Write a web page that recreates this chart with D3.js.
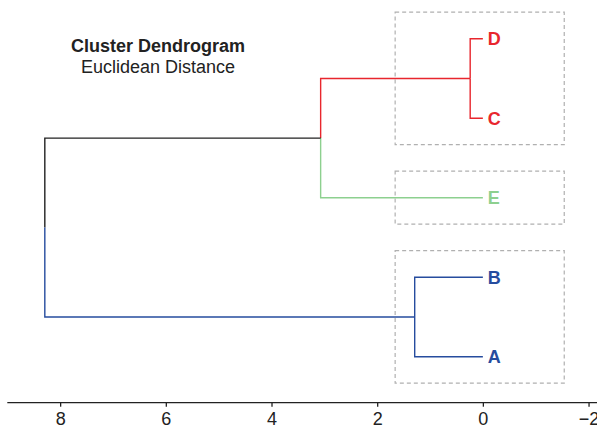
<!DOCTYPE html>
<html>
<head>
<meta charset="utf-8">
<script src="https://cdn.jsdelivr.net/npm/d3@7"></script>
<style>
  body { margin: 0; background: #fff; }
  svg { display: block; font-family: "Liberation Sans", Arial, sans-serif; }
</style>
</head>
<body>
<svg width="597" height="434"></svg>
<script>
// leaves top to bottom, and the merge heights
const leaves = ['D', 'C', 'E', 'B', 'A']
const merges = [
  {name: 'DC',    height: 0.24, children: ['D', 'C']},
  {name: 'AB',    height: 1.29, children: ['B', 'A']},
  {name: 'DCE',   height: 3.07, children: ['DC', 'E']},
  {name: 'root',  height: 8.29, children: ['DCE', 'AB']}
]
const clusters = [['D', 'C'], ['E'], ['B', 'A']]
const ticks = [8, 6, 4, 2, 0, -2]

const red = '#e8262d'
const green = '#8dd08f'
const blue = '#264c9e'
const linkColors = {D: red, C: red, DC: red, E: green, B: blue, A: blue, AB: blue, DCE: '#222'}
const labelColors = {D: red, C: red, E: green, B: blue, A: blue}

const svg = d3.select('svg')

const x = d3.scaleLinear([9, -2.16], [7.3, 597])
const y = d3.scalePoint(leaves, [38.7, 356.7])
const step = y.step()

// build the node table
const nodes = {}
leaves.forEach(l => nodes[l] = {name: l, height: 0, y: y(l)})
merges.forEach(m => {
  nodes[m.name] = {name: m.name, height: m.height, children: m.children,
    y: d3.mean(m.children, c => nodes[c].y)}
})

// dashed boxes round the clusters
svg.selectAll('rect.box').data(clusters).enter()
  .append('rect')
    .attr('class', 'box')
    .attr('x', x(1.66))
    .attr('y', d => y(d[0]) - step / 3)
    .attr('width', x(-1.54) - x(1.66))
    .attr('height', d => y(d[d.length - 1]) - y(d[0]) + step * 2 / 3)
    .attr('fill', 'none')
    .attr('stroke', '#b0b0b0')
    .attr('stroke-width', 1.2)
    .attr('stroke-dasharray', '4,3')

// elbow links, parent (height, mid y) -> child
let links = []
merges.forEach(m => m.children.forEach(c => links.push({p: nodes[m.name], c: nodes[c]})))

svg.selectAll('path.link').data(links).enter()
  .append('path')
    .attr('class', 'link')
    .attr('d', d => `M${x(d.p.height)},${d.p.y}V${d.c.y}H${x(d.c.height)}`)
    .attr('fill', 'none')
    .attr('stroke', d => linkColors[d.c.name])
    .attr('stroke-width', 1.4)

// leaf labels
svg.selectAll('text.leaf').data(leaves).enter()
  .append('text')
    .attr('class', 'leaf')
    .attr('x', x(0) + 5)
    .attr('y', d => y(d))
    .attr('dy', '0.36em')
    .attr('font-size', 18)
    .attr('font-weight', 'bold')
    .attr('fill', d => labelColors[d])
    .text(d => d)

// axis
const xAxis = d3.axisBottom(x)
  .tickValues(ticks)
  .tickSize(4)
  .tickPadding(6)
  .tickFormat(d => d < 0 ? '\u2212' + Math.abs(d) : d)

svg.append('g')
  .attr('transform', 'translate(0,402.7)')
  .call(xAxis)
  .call(g => g.select('.domain').attr('d', `M${x.range()[0]},0H${x.range()[1]}`).attr('stroke', '#222').attr('stroke-width', 1.3))
  .call(g => g.selectAll('.tick line').attr('stroke', '#222').attr('stroke-width', 1.3))
  .call(g => g.selectAll('.tick text').attr('font-size', 18).attr('fill', '#222').attr('font-family', '"Liberation Sans", Arial, sans-serif'))

// title
svg.append('text')
  .attr('x', 158).attr('y', 51.5)
  .attr('text-anchor', 'middle')
  .attr('font-size', 18)
  .attr('font-weight', 'bold')
  .attr('fill', '#222')
  .text('Cluster Dendrogram')

svg.append('text')
  .attr('x', 158).attr('y', 73)
  .attr('text-anchor', 'middle')
  .attr('font-size', 18)
  .attr('fill', '#222')
  .text('Euclidean Distance')
</script>
</body>
</html>
